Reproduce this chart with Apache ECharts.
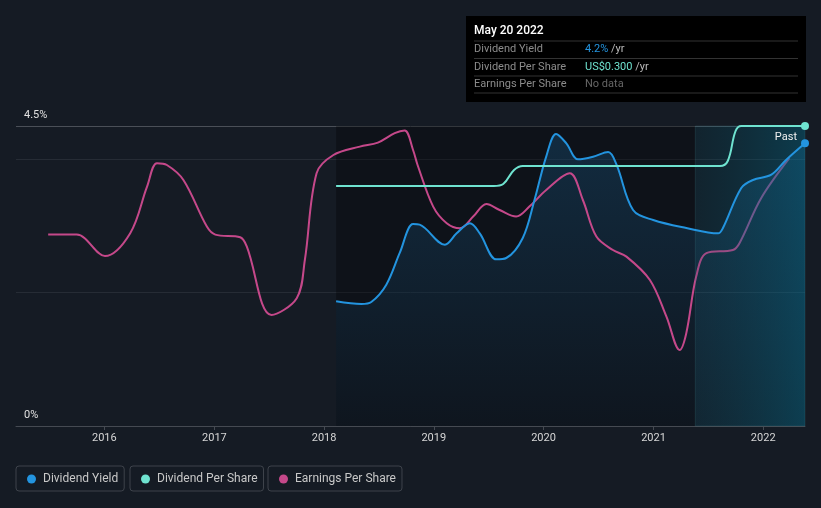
<!DOCTYPE html>
<html>
<head>
<meta charset="utf-8">
<script src="https://cdn.jsdelivr.net/npm/echarts@6/dist/echarts.min.js"></script>
<style>
html,body{margin:0;padding:0;background:#151b24;}
#c{width:821px;height:508px;}
</style>
</head>
<body>
<div id="c"></div>
<script>
// ---- data ----
const yieldDates = ['2018-02-10','2018-05-05','2018-06-07','2018-07-27','2018-09-10','2018-10-24','2018-11-15','2019-02-07','2019-03-18','2019-05-01','2019-06-03','2019-07-28','2019-08-30','2019-10-24','2019-12-02','2020-01-10','2020-02-12','2020-03-17','2020-04-25','2020-06-14','2020-08-03','2020-08-31','2020-10-25','2020-12-31','2021-04-20','2021-08-04','2021-08-20','2021-10-20','2021-11-28','2022-01-28','2022-03-18','2022-05-20'];
const yieldValues = [1.87,1.83,1.86,2.12,2.60,3.03,3.02,2.72,2.89,3.04,2.89,2.50,2.52,2.82,3.39,4.04,4.38,4.24,4.00,4.04,4.11,3.92,3.24,3.09,2.97,2.89,2.97,3.57,3.69,3.77,3.99,4.24];

const dpsDates = ['2018-02-10','2019-07-20','2019-08-20','2019-09-25','2019-10-24','2021-08-10','2021-09-05','2021-10-01','2021-10-20','2022-05-20'];
const dpsValues = [0.24,0.24,0.242,0.256,0.26,0.26,0.265,0.295,0.30,0.30];

const epsDates = ['2015-06-28','2015-10-01','2016-01-03','2016-03-27','2016-05-22','2016-06-24','2016-07-27','2016-09-20','2016-12-07','2017-01-04','2017-03-28','2017-04-19','2017-07-10','2017-10-02','2017-10-29','2017-12-07','2018-02-01','2018-04-30','2018-06-29','2018-08-24','2018-09-26','2018-10-24','2018-11-08','2018-12-30','2019-02-13','2019-03-29','2019-05-12','2019-06-25','2019-08-08','2019-10-02','2019-11-15','2020-01-10','2020-03-28','2020-05-11','2020-06-25','2020-08-19','2020-10-03','2020-12-20','2021-02-13','2021-03-29','2021-04-20','2021-05-23','2021-06-26','2021-09-22','2021-10-14','2021-12-25','2022-03-29'];
const epsValues = [0.957,0.957,0.85,0.964,1.197,1.314,1.305,1.23,0.997,0.957,0.944,0.897,0.555,0.639,0.83,1.264,1.355,1.397,1.417,1.464,1.477,1.38,1.305,1.097,1.014,0.989,1.047,1.11,1.08,1.047,1.097,1.18,1.264,1.13,0.947,0.88,0.847,0.73,0.547,0.38,0.464,0.747,0.864,0.88,0.914,1.139,1.339];
const epsFadeFrom = '2021-10-10';

const yTickLabels = {0:'0%', 4.5:'4.5%'};
const seriesNames = ['Dividend Yield','Dividend Per Share','Earnings Per Share'];
const colors = ['#2394df','#6fe3d0','#c5488a'];
const epsFaded = '#9a5594';
const tipDate = 'May 20 2022';
const tipRows = [['Dividend Yield','4.2%',' /yr'],['Dividend Per Share','US$0.300',' /yr'],['Earnings Per Share','No data','']];
const pastLabel = 'Past';
const xMin = '2015-03-13', xMax = '2022-05-20';
const dataStart = '2018-02-10', pastStart = '2021-05-20';

const zip = (d, v) => d.map((x, i) => [x, v[i]]);
const lastIdx = (arr) => arr.length - 1;

const chart = echarts.init(document.getElementById('c'));
const font = 'Roboto, "Noto Sans", sans-serif';

const gfx = [];
gfx.push({type:'rect', left:466, top:16, shape:{width:340, height:86}, style:{fill:'#000'}, z:100});
gfx.push({type:'text', left:474, top:25, style:{text:tipDate, fill:'#fff', font:'500 12px ' + font}, z:101});
[41,58.5,76,93].forEach(y => gfx.push({type:'line', shape:{x1:474,y1:y,x2:798,y2:y}, style:{stroke:'#333', lineWidth:1}, z:101}));
const valColors = [colors[0], colors[1], '#666'];
tipRows.forEach((r, i) => {
  const y = 44 + i * 17.5;
  gfx.push({type:'text', left:474, top:y, style:{text:r[0], fill:'#8c8c8c', font:'11px ' + font}, z:101});
  gfx.push({type:'text', left:585, top:y, style:{
    text:'{v|' + r[1] + '}{u|' + r[2] + '}',
    rich:{v:{fill:valColors[i], font:'11px ' + font}, u:{fill:'#bbb', font:'11px ' + font}}}, z:101});
});
gfx.push({type:'text', right:24, top:132, style:{text:pastLabel, fill:'#f0f0f0', font:'11px ' + font}, z:50});

const legendBase = (name, left) => ({
  data:[name], left:left, top:466, orient:'horizontal',
  icon:'circle', itemWidth:9, itemHeight:9,
  borderColor:'#3e434b', borderWidth:1, borderRadius:3,
  padding:[7, 6, 6, 11],
  textStyle:{color:'#c8c8c8', fontSize:12, fontFamily:font, padding:[0,0,0,2]},
  selectedMode:false
});

const endSymbol = (n) => (v, p) => p.dataIndex === n ? 8 : 0;

chart.setOption({
  backgroundColor:'#151b24',
  animation:false,
  textStyle:{fontFamily:font},
  grid:{left:16, right:16, top:126, bottom:82, containLabel:false},
  xAxis:{
    type:'time', min:xMin, max:xMax, splitNumber:7,
    axisLine:{lineStyle:{color:'#454a52'}},
    axisTick:{show:true, length:4, lineStyle:{color:'#454a52'}},
    axisLabel:{color:'#d6d6d6', fontSize:11, margin:7, formatter:'{yyyy}', showMinLabel:false},
    splitLine:{show:false}
  },
  yAxis:[
    {type:'value', min:0, max:4.5, interval:2,
     axisLine:{show:false}, axisTick:{show:false},
     axisLabel:{inside:true, margin:8, color:'#e0e0e0', fontSize:11, verticalAlign:'bottom', padding:[0,0,5,0],
       formatter:(v) => yTickLabels[v] !== undefined ? yTickLabels[v] : ''},
     splitLine:{show:true, lineStyle:{color:['#454a52','#262c35','#262c35','#4a4f57'], width:1}}},
    {type:'value', min:0, max:0.3, show:false},
    {type:'value', min:0, max:1.5, show:false}
  ],
  legend:[legendBase(seriesNames[0], 16), legendBase(seriesNames[1], 130), legendBase(seriesNames[2], 268)],
  graphic:gfx,
  series:[
    {
      name:'bg', type:'line', data:[], z:1,
      markArea:{silent:true, z:1, itemStyle:{color:'rgba(0,0,0,0.3)'},
        data:[[{xAxis:dataStart, yAxis:0},{xAxis:pastStart, yAxis:4.5}]]}
    },
    {
      name:'yieldArea', type:'line', data:zip(yieldDates, yieldValues), z:2,
      smooth:0.35, showSymbol:false, lineStyle:{width:0}, silent:true,
      areaStyle:{color:new echarts.graphic.LinearGradient(0,0,0,1,[
        {offset:0, color:'rgba(35,148,223,0.28)'},{offset:1, color:'rgba(35,148,223,0.04)'}]), origin:'start'}
    },
    {
      name:seriesNames[2], type:'line', yAxisIndex:2, data:zip(epsDates, epsValues), z:2,
      smooth:0.35, showSymbol:false, color:colors[2], lineStyle:{width:2, color:colors[2]}
    },
    {
      name:'past', type:'line', data:[], z:3,
      markArea:{silent:true, z:3,
        itemStyle:{color:new echarts.graphic.LinearGradient(0,0,1,0,[
          {offset:0, color:'rgba(0,80,100,0.16)'},{offset:1, color:'rgba(0,110,140,0.40)'}]),
          borderColor:'rgba(80,150,160,0.18)', borderWidth:1},
        data:[[{xAxis:pastStart, yAxis:0},{xAxis:xMax, yAxis:4.5}]]}
    },
    {
      name:seriesNames[0], type:'line', data:zip(yieldDates, yieldValues), z:4,
      smooth:0.35, showSymbol:true, showAllSymbol:true, symbol:'circle',
      symbolSize:endSymbol(lastIdx(yieldDates)),
      color:colors[0], lineStyle:{width:2, color:colors[0]}, itemStyle:{color:colors[0]}
    },
    {
      name:seriesNames[1], type:'line', yAxisIndex:1, data:zip(dpsDates, dpsValues), z:4,
      smooth:0.4, showSymbol:true, showAllSymbol:true, symbol:'circle',
      symbolSize:endSymbol(lastIdx(dpsDates)),
      color:colors[1], lineStyle:{width:2, color:colors[1]}, itemStyle:{color:colors[1]}
    }
  ]
});

// fade the EPS line after the fade date (position derived from the axis scale)
const fx = chart.convertToPixel({xAxisIndex:0}, epsFadeFrom);
if (isFinite(fx)) {
  chart.setOption({series:[{}, {}, {lineStyle:{color:new echarts.graphic.LinearGradient(fx - 4, 0, fx + 4, 0, [
    {offset:0, color:colors[2]}, {offset:1, color:epsFaded}], true)}}]});
}
</script>
</body>
</html>
